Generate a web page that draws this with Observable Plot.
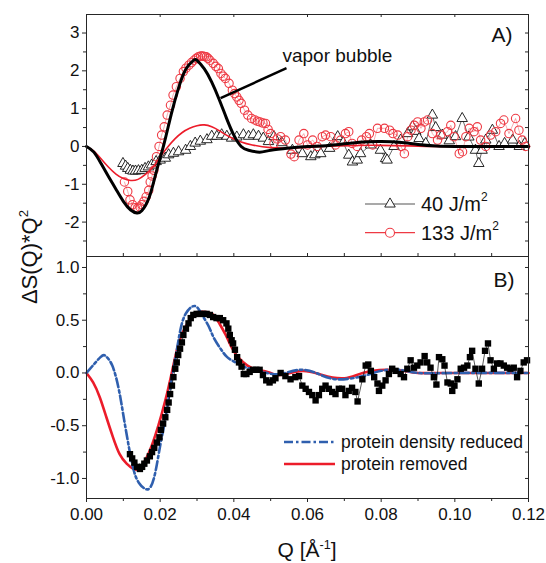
<!DOCTYPE html>
<html>
<head>
<meta charset="utf-8">
<script src="https://cdn.jsdelivr.net/npm/d3@7"></script>
<script src="https://cdn.jsdelivr.net/npm/@observablehq/plot@0.6"></script>
<style>
  body { margin: 0; background: #fff; }
  #wrap { position: relative; width: 546px; height: 563px; font-family: "Liberation Sans", Arial, sans-serif; }
  #wrap > div.panel { position: absolute; left: 0; top: 0; width: 546px; height: 563px; }
  .sup { font-size: 0.6em; position: relative; top: -0.65em; }
  #ylab { position: absolute; left: 30px; top: 257px; transform: translate(-50%, -50%) rotate(-90deg); font-size: 22px; white-space: nowrap; color: #111; }
  #xlab { position: absolute; left: 307px; top: 550px; transform: translate(-50%, -50%); font-size: 21px; white-space: nowrap; color: #111; }
</style>
</head>
<body>
<div id="wrap">
  <div class="panel" id="pa"></div>
  <div class="panel" id="pb"></div>
  <div id="ylab">ΔS(Q)*Q<span class="sup">2</span></div>
  <div id="xlab">Q [Å<span class="sup">-1</span>]</div>
</div>
<script>
// ---------- Panel A data ----------
const qVapor = [0,0.002,0.004,0.006,0.008,0.010,0.012,0.0137,0.015,0.017,0.019,0.021,0.023,0.025,0.027,0.029,0.030,0.032,0.034,0.036,0.038,0.040,0.042,0.044,0.047,0.050,0.055,0.060,0.065,0.070,0.075,0.080,0.085,0.090,0.095,0.100,0.110,0.120];
const vaporBubble = [0,-0.15,-0.46,-0.8,-1.13,-1.45,-1.68,-1.76,-1.7,-1.35,-0.65,0.05,0.85,1.55,2.05,2.27,2.28,2.05,1.7,1.25,0.75,0.3,0.0,-0.1,-0.15,-0.1,-0.04,0.0,0.02,0.07,0.12,0.13,0.11,0.05,0.01,0,0,0];

const qRedA = [0,0.002,0.004,0.006,0.008,0.010,0.012,0.014,0.016,0.018,0.020,0.022,0.024,0.026,0.028,0.030,0.032,0.034,0.036,0.038,0.040,0.042,0.045,0.050,0.055,0.060,0.070,0.080,0.090,0.100,0.120];
const redModelA = [0,-0.12,-0.33,-0.55,-0.73,-0.85,-0.9,-0.87,-0.74,-0.55,-0.28,-0.02,0.2,0.37,0.48,0.55,0.57,0.52,0.42,0.3,0.2,0.12,0.04,-0.03,-0.04,-0.02,0.02,0.03,0.01,0,0];

// 40 J/m^2 (triangles): [Q, value]
const data40 = [[0.0099,-0.45],[0.0106,-0.52],[0.0112,-0.58],[0.0119,-0.63],[0.0126,-0.65],[0.0133,-0.65],[0.0141,-0.64],[0.0150,-0.63],[0.0159,-0.58],[0.0168,-0.54],[0.0177,-0.49],[0.0189,-0.4],[0.0200,-0.36],[0.0214,-0.31],[0.0223,-0.22],[0.0236,-0.18],[0.0250,-0.14],[0.0269,-0.1],[0.0282,0.0],[0.0295,0.09],[0.0309,0.14],[0.0327,0.18],[0.0340,0.27],[0.0354,0.27],[0.0367,0.31],[0.0381,0.27],[0.0394,0.22],[0.0408,0.25],[0.0426,0.31],[0.0440,0.27],[0.0453,0.31],[0.0467,0.27],[0.0480,0.22],[0.0494,0.13],[0.0509,0.26],[0.0530,0.1],[0.0559,-0.1],[0.0586,-0.19],[0.0609,-0.27],[0.0620,-0.22],[0.0636,-0.19],[0.0660,-0.05],[0.0682,0.26],[0.0697,0.1],[0.0712,-0.23],[0.0722,-0.41],[0.0735,-0.36],[0.0744,-0.19],[0.0771,0.04],[0.0798,-0.1],[0.0812,-0.32],[0.0816,-0.36],[0.0835,0.0],[0.0853,0.17],[0.0872,0.34],[0.0885,0.52],[0.0894,0.4],[0.0903,0.21],[0.0921,0.08],[0.0939,0.83],[0.0948,0.5],[0.0966,0.3],[0.0985,0.15],[0.1002,0.26],[0.1020,0.74],[0.1038,0.25],[0.1056,-0.1],[0.1065,-0.45],[0.1074,-0.1],[0.1084,0.17],[0.1102,0.43],[0.1120,0.0],[0.1135,0.08],[0.1157,0.17],[0.1175,0.0],[0.1190,0.08]];

// 133 J/m^2 (circles): [Q, value]
const data133 = [[0.0103,-0.94],[0.0112,-1.19],[0.0118,-1.41],[0.0125,-1.54],[0.0132,-1.62],[0.0139,-1.63],[0.0145,-1.6],[0.0150,-1.54],[0.0156,-1.45],[0.0162,-1.33],[0.0169,-1.16],[0.0173,-0.94],[0.0178,-0.78],[0.0183,-0.63],[0.0190,-0.27],[0.0197,0.0],[0.0204,0.3],[0.0211,0.52],[0.0219,0.83],[0.0228,1.09],[0.0235,1.36],[0.0244,1.58],[0.0254,1.8],[0.0263,1.98],[0.0270,2.07],[0.0278,2.15],[0.0285,2.22],[0.0292,2.28],[0.0298,2.33],[0.0304,2.37],[0.0310,2.39],[0.0315,2.39],[0.0320,2.38],[0.0325,2.37],[0.0330,2.33],[0.0335,2.28],[0.0344,2.2],[0.0351,2.12],[0.0358,2.06],[0.0365,1.93],[0.0371,1.86],[0.0377,1.8],[0.0387,1.67],[0.0396,1.49],[0.0402,1.4],[0.0408,1.31],[0.0414,1.22],[0.0420,1.14],[0.0429,0.96],[0.0438,0.83],[0.0448,0.74],[0.0457,0.7],[0.0464,0.67],[0.0471,0.65],[0.0479,0.62],[0.0486,0.61],[0.0493,0.45],[0.0500,0.34],[0.0509,0.08],[0.0518,0.2],[0.0527,0.26],[0.0540,0.17],[0.0555,-0.2],[0.0564,-0.27],[0.0577,0.17],[0.0590,0.34],[0.0600,0.04],[0.0614,0.17],[0.0626,0.0],[0.0640,0.26],[0.0649,0.3],[0.0663,0.26],[0.0676,0.04],[0.0690,0.17],[0.0703,0.34],[0.0712,0.39],[0.0721,0.08],[0.0735,0.0],[0.0747,0.17],[0.0760,0.26],[0.0768,0.34],[0.0777,0.04],[0.0790,0.48],[0.0809,0.48],[0.0823,0.43],[0.0832,0.34],[0.0845,0.3],[0.0854,0.0],[0.0863,-0.19],[0.0872,0.26],[0.0881,0.43],[0.0890,0.56],[0.0899,0.65],[0.0908,0.48],[0.0917,0.65],[0.0926,0.7],[0.0939,0.34],[0.0953,0.17],[0.0962,0.3],[0.0980,0.39],[0.0989,0.56],[0.0998,0.26],[0.1012,-0.19],[0.1021,-0.14],[0.1030,0.26],[0.1039,0.48],[0.1052,0.39],[0.1061,0.52],[0.1070,0.17],[0.1084,0.0],[0.1097,0.3],[0.1111,0.39],[0.1124,0.61],[0.1133,0.7],[0.1147,0.34],[0.1165,0.74],[0.1174,0.43],[0.1183,0.17],[0.1192,0.0]];

// vapor bubble annotation: pointer from curve to label, and label anchor [Q, value]
const pointerFrom = [0.0364, 1.28];
const pointerTo = [0.0543, 2.07];
const annotLabel = "vapor bubble";
const annotAt = [0.0532, 2.39];

// ---------- Panel B data ----------
const qBlue = [0,0.0038,0.0052,0.0070,0.0088,0.0101,0.0115,0.0128,0.0142,0.0160,0.0174,0.0187,0.0201,0.0215,0.0228,0.0242,0.0255,0.0269,0.0287,0.0301,0.0314,0.0332,0.0346,0.0364,0.0382,0.0405,0.0427,0.0454,0.0490,0.0527,0.0580,0.0630,0.0680,0.0750,0.0800,0.0850,0.0900,0.1000,0.1200];
const densityReduced = [0,0.15,0.16,0.07,-0.16,-0.42,-0.7,-0.92,-1.04,-1.1,-1.08,-0.94,-0.67,-0.42,-0.13,0.15,0.41,0.56,0.63,0.62,0.55,0.44,0.33,0.23,0.15,0.1,0.06,0.03,0.0,-0.01,0.03,-0.01,-0.06,-0.03,0.02,0.03,0.0,0.0,0.0];

const qRedB = [0,0.0018,0.0036,0.0054,0.0072,0.0090,0.0109,0.0127,0.0141,0.0159,0.0177,0.0195,0.0214,0.0232,0.0250,0.0269,0.0292,0.0314,0.0341,0.0359,0.0378,0.0396,0.0414,0.0437,0.0464,0.0500,0.0527,0.0586,0.0640,0.0700,0.0750,0.0812,0.0862,0.0900,0.1000,0.1200];
const proteinRemoved = [0,-0.09,-0.23,-0.42,-0.61,-0.77,-0.86,-0.91,-0.91,-0.83,-0.69,-0.5,-0.26,0.01,0.28,0.44,0.55,0.58,0.56,0.48,0.36,0.23,0.14,0.07,0.03,0.0,-0.02,0.02,-0.02,-0.05,0.0,0.03,0.02,0.0,0.0,0.0];

// measured data (squares): [Q, value]
const dataB = [[0.0118,-0.77],[0.0124,-0.81],[0.0130,-0.85],[0.0137,-0.89],[0.0145,-0.91],[0.0151,-0.89],[0.0157,-0.86],[0.0164,-0.83],[0.0172,-0.79],[0.0178,-0.75],[0.0184,-0.71],[0.0191,-0.66],[0.0198,-0.61],[0.0202,-0.54],[0.0208,-0.48],[0.0214,-0.42],[0.0219,-0.35],[0.0223,-0.28],[0.0227,-0.2],[0.0232,-0.12],[0.0236,-0.04],[0.0241,0.04],[0.0245,0.1],[0.0249,0.17],[0.0254,0.23],[0.0259,0.29],[0.0263,0.36],[0.0270,0.42],[0.0277,0.47],[0.0283,0.52],[0.0290,0.55],[0.0299,0.56],[0.0308,0.56],[0.0317,0.56],[0.0326,0.56],[0.0335,0.55],[0.0344,0.53],[0.0353,0.52],[0.0362,0.52],[0.0371,0.5],[0.0380,0.47],[0.0385,0.42],[0.0389,0.36],[0.0394,0.31],[0.0398,0.28],[0.0403,0.22],[0.0409,0.15],[0.0414,0.1],[0.0421,0.06],[0.0427,-0.01],[0.0434,-0.01],[0.0443,0.01],[0.0452,0.03],[0.0461,0.03],[0.0470,0.03],[0.0479,-0.02],[0.0488,-0.07],[0.0497,-0.09],[0.0506,-0.07],[0.0513,-0.05],[0.0527,0.0],[0.0540,-0.03],[0.0554,-0.06],[0.0567,-0.04],[0.0577,-0.03],[0.0586,-0.12],[0.0595,-0.15],[0.0604,-0.18],[0.0613,-0.21],[0.0622,-0.26],[0.0631,-0.21],[0.0640,-0.15],[0.0649,-0.12],[0.0658,-0.15],[0.0667,-0.18],[0.0676,-0.2],[0.0685,-0.15],[0.0694,-0.15],[0.0703,-0.21],[0.0712,-0.17],[0.0721,-0.14],[0.0730,-0.18],[0.0736,-0.27],[0.0749,-0.06],[0.0758,0.07],[0.0765,0.08],[0.0772,0.02],[0.0781,-0.04],[0.0790,-0.1],[0.0794,-0.17],[0.0803,-0.12],[0.0812,-0.07],[0.0821,-0.01],[0.0830,0.04],[0.0839,0.02],[0.0853,-0.01],[0.0862,-0.04],[0.0871,0.04],[0.0880,0.12],[0.0889,0.05],[0.0898,0.07],[0.0907,0.1],[0.0918,0.16],[0.0925,0.1],[0.0934,0.05],[0.0943,-0.04],[0.0950,-0.11],[0.0957,0.15],[0.0966,0.13],[0.0972,0.07],[0.0980,-0.09],[0.0989,-0.1],[0.0993,-0.17],[0.0999,-0.12],[0.1007,-0.06],[0.1016,0.04],[0.1025,0.05],[0.1034,0.07],[0.1041,0.15],[0.1047,0.21],[0.1056,0.04],[0.1065,-0.1],[0.1074,0.04],[0.1082,0.21],[0.1090,0.28],[0.1097,0.12],[0.1106,0.04],[0.1115,0.09],[0.1124,0.09],[0.1133,0.07],[0.1142,0.05],[0.1151,0.04],[0.1160,0.05],[0.1169,-0.04],[0.1178,0.02],[0.1187,0.1],[0.1196,0.12]];

// ---------- ticks ----------
const xMajor = [0, 0.02, 0.04, 0.06, 0.08, 0.10, 0.12];
const xMinor = [0.01, 0.03, 0.05, 0.07, 0.09, 0.11];
const yMajorA = [-2, -1, 0, 1, 2, 3];
const yMinorA = [-2.5, -1.5, -0.5, 0.5, 1.5, 2.5];
const yMajorB = [-1.0, -0.5, 0.0, 0.5, 1.0];
const yMinorB = [-0.75, -0.25, 0.25, 0.75];

const legendA = [
  {label: "40 J/m", sup: "2", symbol: "triangle"},
  {label: "133 J/m", sup: "2", symbol: "circle"}
];
const legendB = [
  {label: "protein density reduced", color: "#2f5fae", dash: "9,3,2.5,3"},
  {label: "protein removed", color: "#ec1c2a", dash: null}
];

// ---------- layout ----------
const W = 546, H = 563;
const ML = 86, MR = 18;
const A_top = 14, A_bot = 256, B_top = 256, B_bot = 498;
const frameColor = "#262626";
const font = `"Liberation Sans", Arial, sans-serif`;
const TICK_FS = 17;
const RED = "#ec1c2a", RED_DOT = "#ee3a44", BLUE = "#2f5fae";

function inwardTicks(values, axis, len, plotW, plotH) {
  if (axis === "right") return Plot.tickY(values, {y: d => d, insetLeft: plotW - len, stroke: frameColor});
  if (axis === "top") return Plot.tickX(values, {x: d => d, insetBottom: plotH - len, stroke: frameColor});
  if (axis === "bottomIn") return Plot.tickX(values, {x: d => d, insetTop: plotH - len, stroke: frameColor});
}

const pairs = (qs, vs) => qs.map((q, i) => ({q, v: vs[i]}));

// ---------- Panel A ----------
const plotWA = W - ML - MR, plotHA = A_bot - A_top;
const pa = Plot.plot({
  width: W, height: H,
  marginLeft: ML, marginRight: MR, marginTop: A_top, marginBottom: H - A_bot,
  style: {background: "transparent", fontFamily: font, fontSize: TICK_FS + "px", color: "#111", overflow: "visible"},
  x: {domain: [0, 0.12], axis: null},
  y: {domain: [-2.91, 3.49]},
  marks: [
    Plot.axisY(yMajorA, {anchor: "left", tickSize: 4, tickPadding: 3, tickFormat: d => String(d), label: null, fontSize: TICK_FS, stroke: frameColor}),
    Plot.axisY(yMinorA, {anchor: "left", tickSize: 3, tickFormat: () => "", label: null, stroke: frameColor}),
    inwardTicks(yMajorA.concat(yMinorA), "right", 3, plotWA, plotHA),
    inwardTicks(xMajor, "top", 3, plotWA, plotHA),
    inwardTicks(xMajor.concat(xMinor), "bottomIn", 3, plotWA, plotHA),
    // measured data
    Plot.line(data40, {x: d => d[0], y: d => d[1], stroke: "#444", strokeWidth: 0.8}),
    Plot.line(data133, {x: d => d[0], y: d => d[1], stroke: RED_DOT, strokeWidth: 0.7, strokeOpacity: 0.6}),
    Plot.dot(data40, {x: d => d[0], y: d => d[1], symbol: "triangle", r: 3.9, stroke: "#111", fill: "white", strokeWidth: 0.9}),
    Plot.dot(data133, {x: d => d[0], y: d => d[1], symbol: "circle", r: 4.2, stroke: RED_DOT, fill: "none", strokeWidth: 1.1}),
    // models
    Plot.line(pairs(qRedA, redModelA), {x: "q", y: "v", stroke: RED, strokeWidth: 1.6, curve: "natural"}),
    Plot.line(pairs(qVapor, vaporBubble), {x: "q", y: "v", stroke: "#000", strokeWidth: 3, curve: "natural"}),
    // annotation
    Plot.link([{x1: pointerFrom[0], y1: pointerFrom[1], x2: pointerTo[0], y2: pointerTo[1]}], {x1: "x1", y1: "y1", x2: "x2", y2: "y2", stroke: "#000", strokeWidth: 2.5}),
    Plot.text([annotLabel], {x: annotAt[0], y: annotAt[1], text: d => d, textAnchor: "start", fontSize: 19, fill: "#111"}),
    Plot.text(["A)"], {frameAnchor: "top-right", dx: -16, dy: 21, lineAnchor: "middle", textAnchor: "end", fontSize: 21, fill: "#111"}),
    Plot.frame({stroke: frameColor, strokeWidth: 1})
  ]
});
document.getElementById("pa").appendChild(pa);

// ---------- Panel B ----------
const plotHB = B_bot - B_top;
const pb = Plot.plot({
  width: W, height: H,
  marginLeft: ML, marginRight: MR, marginTop: B_top, marginBottom: H - B_bot,
  style: {background: "transparent", fontFamily: font, fontSize: TICK_FS + "px", color: "#111", overflow: "visible"},
  x: {domain: [0, 0.12]},
  y: {domain: [-1.19, 1.104]},
  marks: [
    Plot.axisY(yMajorB, {anchor: "left", tickSize: 4, tickPadding: 3, tickFormat: d => d.toFixed(1), label: null, fontSize: TICK_FS, stroke: frameColor}),
    Plot.axisY(yMinorB, {anchor: "left", tickSize: 3, tickFormat: () => "", label: null, stroke: frameColor}),
    Plot.axisX(xMajor, {anchor: "bottom", tickSize: 4, tickPadding: 5, tickFormat: d => d.toFixed(2), label: null, fontSize: TICK_FS, stroke: frameColor}),
    Plot.axisX(xMinor, {anchor: "bottom", tickSize: 3, tickFormat: () => "", label: null, stroke: frameColor}),
    inwardTicks(yMajorB.concat(yMinorB), "right", 3, plotWA, plotHB),
    // models
    Plot.line(pairs(qRedB, proteinRemoved), {x: "q", y: "v", stroke: RED, strokeWidth: 2.6, curve: "natural"}),
    Plot.line(pairs(qBlue, densityReduced), {x: "q", y: "v", stroke: BLUE, strokeWidth: 2.6, strokeDasharray: "9,3,2.5,3", curve: "natural"}),
    // measured data
    Plot.line(dataB, {x: d => d[0], y: d => d[1], stroke: "#111", strokeWidth: 0.7}),
    Plot.dot(dataB, {x: d => d[0], y: d => d[1], symbol: "square", r: 3.6, fill: "#000"}),
    Plot.text(["B)"], {frameAnchor: "top-right", dx: -14, dy: 24, lineAnchor: "middle", textAnchor: "end", fontSize: 21, fill: "#111"}),
    Plot.frame({stroke: frameColor, strokeWidth: 1})
  ]
});
document.getElementById("pb").appendChild(pb);

// ---------- Legends (decoration drawn into the SVGs) ----------
{
  const g = d3.select(pa).append("g").attr("font-family", font).attr("font-size", 20).attr("fill", "#111").attr("text-anchor", "start");
  legendA.forEach((it, i) => {
    const y = 204 + i * 28.7;
    const col = it.symbol === "triangle" ? "#555" : RED_DOT;
    g.append("line").attr("x1", 365).attr("x2", 415).attr("y1", y).attr("y2", y).attr("stroke", col).attr("stroke-width", 1.2);
    if (it.symbol === "triangle") {
      g.append("path").attr("d", d3.symbol(d3.symbolTriangle, Math.PI * 3.9 * 3.9)()).attr("transform", `translate(390,${y})`).attr("fill", "white").attr("stroke", "#111").attr("stroke-width", 0.9);
    } else {
      g.append("circle").attr("cx", 390).attr("cy", y).attr("r", 4.5).attr("fill", "white").attr("stroke", RED_DOT).attr("stroke-width", 1.1);
    }
    const t = g.append("text").attr("x", 421).attr("y", y).attr("dy", "0.35em");
    t.append("tspan").text(it.label);
    t.append("tspan").attr("font-size", 12).attr("dy", "-0.8em").text(it.sup);
  });
}
{
  const g = d3.select(pb).append("g").attr("font-family", font).attr("font-size", 17.5).attr("fill", "#111").attr("text-anchor", "start");
  legendB.forEach((it, i) => {
    const y = 442 + i * 22;
    g.append("line").attr("x1", 284).attr("x2", 335).attr("y1", y).attr("y2", y).attr("stroke", it.color).attr("stroke-width", 2.6).attr("stroke-dasharray", it.dash);
    g.append("text").attr("x", 341).attr("y", y).attr("dy", "0.35em").text(it.label);
  });
}
</script>
</body>
</html>
